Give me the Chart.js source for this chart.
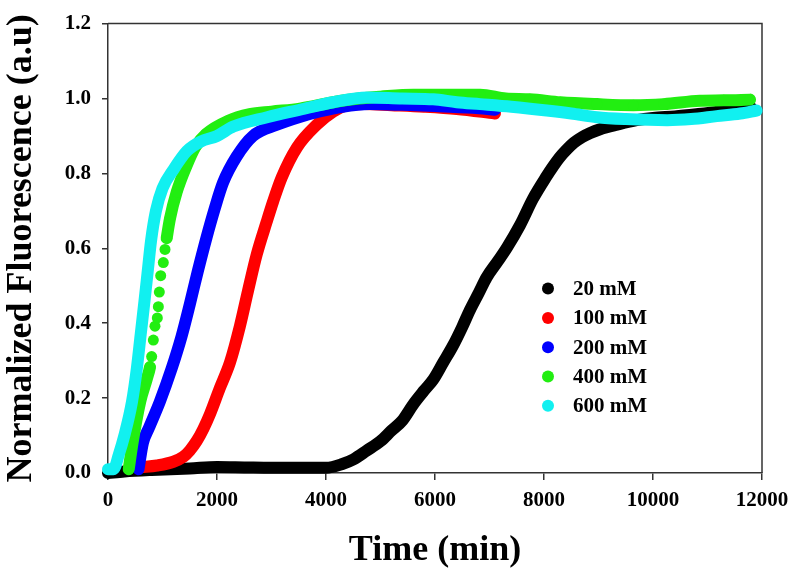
<!DOCTYPE html>
<html>
<head>
<meta charset="utf-8">
<script src="https://cdn.jsdelivr.net/npm/chart.js@4.4.1/dist/chart.umd.min.js"></script>
<style>
  html, body { margin: 0; padding: 0; background: #fff; }
  #wrap { width: 800px; height: 586px; }
</style>
</head>
<body>
<div id="wrap"><canvas id="fluoChart" width="800" height="586"></canvas></div>
<script>
// Values (time in min, normalized fluorescence)
const seriesLabels = ['20 mM', '100 mM', '200 mM', '400 mM', '600 mM'];
const seriesColors = ['#000000', '#ff0000', '#0000ff', '#22ee11', '#11f0f0'];

const t20 = [0, 300, 800, 1500, 2000, 2500, 3000, 3500, 4000, 4300, 4500, 4750, 5000, 5200, 5400, 5600, 5800, 5970, 6150, 6330, 6500, 6640, 6800, 6950, 7150, 7320, 7560, 7800, 8050, 8150, 8290, 8420, 8550, 8700, 8850, 9030, 9340, 9700, 10000, 10400, 10800, 11200, 11500, 11800];
const v20 = [0.0, 0.004, 0.008, 0.012, 0.016, 0.015, 0.014, 0.014, 0.014, 0.024, 0.036, 0.06, 0.085, 0.113, 0.14, 0.183, 0.22, 0.25, 0.295, 0.34, 0.39, 0.435, 0.48, 0.523, 0.565, 0.602, 0.662, 0.733, 0.793, 0.815, 0.843, 0.864, 0.882, 0.897, 0.908, 0.918, 0.93, 0.942, 0.948, 0.952, 0.958, 0.965, 0.972, 0.975];

const t100 = [600, 900, 1200, 1380, 1500, 1630, 1750, 1870, 2050, 2240, 2420, 2570, 2730, 2910, 3030, 3190, 3470, 3830, 4130, 4380, 4700, 5200, 5800, 6400, 7100];
const v100 = [0.015, 0.02, 0.03, 0.043, 0.06, 0.086, 0.118, 0.157, 0.226, 0.296, 0.392, 0.487, 0.584, 0.67, 0.725, 0.79, 0.87, 0.93, 0.965, 0.982, 0.985, 0.982, 0.978, 0.972, 0.96];

const t200 = [560, 640, 750, 950, 1170, 1350, 1500, 1650, 1810, 1960, 2110, 2360, 2660, 3100, 3500, 3900, 4300, 4800, 5400, 6000, 6700, 7100];
const v200 = [0.01, 0.08, 0.12, 0.19, 0.28, 0.365, 0.45, 0.54, 0.63, 0.707, 0.775, 0.845, 0.9, 0.93, 0.95, 0.966, 0.978, 0.985, 0.983, 0.98, 0.975, 0.97];

const t400 = [380, 450, 590, 710, 771, 801, 832, 862, 905, 924, 942, 967, 1015, 1046, 1077, 1138, 1260, 1440, 1600, 1800, 2200, 2600, 3000, 3520, 4130, 4600, 5000, 5600, 6200, 6830, 7300, 7740, 8300, 8970, 9640, 10200, 10860, 11300, 11780];
const v400 = [0.01, 0.08, 0.19, 0.25, 0.283, 0.311, 0.355, 0.392, 0.414, 0.444, 0.483, 0.527, 0.562, 0.597, 0.627, 0.68, 0.75, 0.82, 0.87, 0.905, 0.94, 0.958, 0.965, 0.973, 0.99, 1.0, 1.005, 1.01, 1.01, 1.01, 1.0, 0.998, 0.99, 0.985, 0.982, 0.985, 0.994, 0.995, 0.997];

const t600 = [0, 100, 200, 300, 440, 530, 600, 670, 730, 790, 880, 1000, 1200, 1450, 1700, 2000, 2300, 2920, 3520, 4130, 4750, 5400, 5970, 6400, 6830, 7400, 8050, 8500, 8970, 9500, 10260, 10700, 11170, 11600, 11900];
const v600 = [0.01, 0.01, 0.05, 0.1, 0.19, 0.28, 0.37, 0.46, 0.54, 0.62, 0.7, 0.76, 0.81, 0.86, 0.885, 0.9, 0.925, 0.95, 0.97, 0.99, 1.003, 1.0, 0.998, 0.99, 0.985, 0.978, 0.968, 0.96, 0.95, 0.945, 0.942, 0.945, 0.953, 0.96, 0.968];

const xTicks = [0, 2000, 4000, 6000, 8000, 10000, 12000];
const yTicks = [0, 0.2, 0.4, 0.6, 0.8, 1.0, 1.2];

const seriesT = [t20, t100, t200, t400, t600];
const seriesV = [v20, v100, v200, v400, v600];

// green (400 mM) shows separate dots in its steep part
const dotLow = 0.28, dotHigh = 0.63;

function makeDataset(i) {
    const pts = seriesT[i].map((t, k) => ({ x: t, y: seriesV[i][k] }));
    const ds = {
        label: seriesLabels[i],
        data: pts,
        showLine: true,
        borderColor: seriesColors[i],
        backgroundColor: seriesColors[i],
        borderWidth: 12,
        borderCapStyle: 'round',
        borderJoinStyle: 'round',
        cubicInterpolationMode: 'monotone',
        pointRadius: 0,
        clip: false
    };
    if (i === 3) {
        ds.pointRadius = 5.5;
        ds.pointBorderWidth = 0;
        ds.segment = {
            borderColor: ctx => (ctx.p0.parsed.y >= dotLow && ctx.p1.parsed.y <= dotHigh) ? 'rgba(0,0,0,0)' : undefined
        };
    }
    return ds;
}

// dataset 0 is drawn on top -> cyan first, black last
const datasets = [4, 3, 2, 1, 0].map(makeDataset);

// box around plot area + legend inside it
const framePlugin = {
    id: 'frame',
    beforeDatasetsDraw(chart) {
        const a = chart.chartArea;
        const ctx = chart.ctx;
        ctx.save();
        ctx.strokeStyle = '#333';
        ctx.lineWidth = 1.5;
        ctx.beginPath();
        ctx.moveTo(a.left, a.top);
        ctx.lineTo(a.right, a.top);
        ctx.lineTo(a.right, a.bottom);
        ctx.stroke();
        ctx.restore();
    },
    afterDraw(chart) {
        const a = chart.chartArea;
        const ctx = chart.ctx;
        const x0 = a.left + 440;
        const y0 = a.top + 265;
        const dy = 29.3;
        ctx.save();
        ctx.font = 'bold 21px "Liberation Serif", "Times New Roman", serif';
        ctx.textBaseline = 'middle';
        ctx.textAlign = 'left';
        seriesLabels.forEach((lab, i) => {
            const y = y0 + i * dy;
            ctx.fillStyle = seriesColors[i];
            ctx.beginPath();
            ctx.arc(x0, y, 6, 0, Math.PI * 2);
            ctx.fill();
            ctx.fillStyle = '#000';
            ctx.fillText(lab, x0 + 25, y + 1);
        });
        ctx.restore();
    }
};

const serif = '"Liberation Serif", "Times New Roman", serif';

new Chart(document.getElementById('fluoChart'), {
    type: 'scatter',
    data: { datasets: datasets },
    plugins: [framePlugin],
    options: {
        responsive: false,
        animation: false,
        devicePixelRatio: 1,
        layout: { padding: { top: 15, right: 38, left: 0, bottom: 0 } },
        plugins: {
            legend: { display: false },
            tooltip: { enabled: false }
        },
        scales: {
            x: {
                type: 'linear',
                min: 0,
                max: 12000,
                afterBuildTicks: s => { s.ticks = xTicks.map(v => ({ value: v })); },
                afterFit: s => { s.height = 113; },
                grid: { drawOnChartArea: false, drawTicks: true, tickLength: 7, color: '#333', lineWidth: 1.5 },
                border: { display: true, color: '#333', width: 1.5 },
                ticks: {
                    color: '#000',
                    padding: 8,
                    maxRotation: 0,
                    font: { family: serif, size: 21, weight: 'bold' },
                    callback: v => String(v)
                },
                title: {
                    display: true,
                    text: 'Time (min)',
                    color: '#000',
                    font: { family: serif, size: 36, weight: 'bold' },
                    padding: { top: 0, bottom: 14 }
                }
            },
            y: {
                type: 'linear',
                min: 0,
                max: 1.2,
                afterBuildTicks: s => { s.ticks = yTicks.map(v => ({ value: v })); },
                afterFit: s => { s.width = 108; },
                grid: { drawOnChartArea: false, drawTicks: true, tickLength: 6, color: '#333', lineWidth: 1.5 },
                border: { display: true, color: '#333', width: 1.5 },
                ticks: {
                    color: '#000',
                    padding: 11,
                    font: { family: serif, size: 21, weight: 'bold' },
                    callback: v => Number(v).toFixed(1)
                },
                title: {
                    display: true,
                    text: 'Normalized Fluorescence (a.u)',
                    color: '#000',
                    font: { family: serif, size: 36, weight: 'bold' },
                    padding: { top: 0, bottom: 0 }
                }
            }
        }
    }
});
</script>
</body>
</html>
